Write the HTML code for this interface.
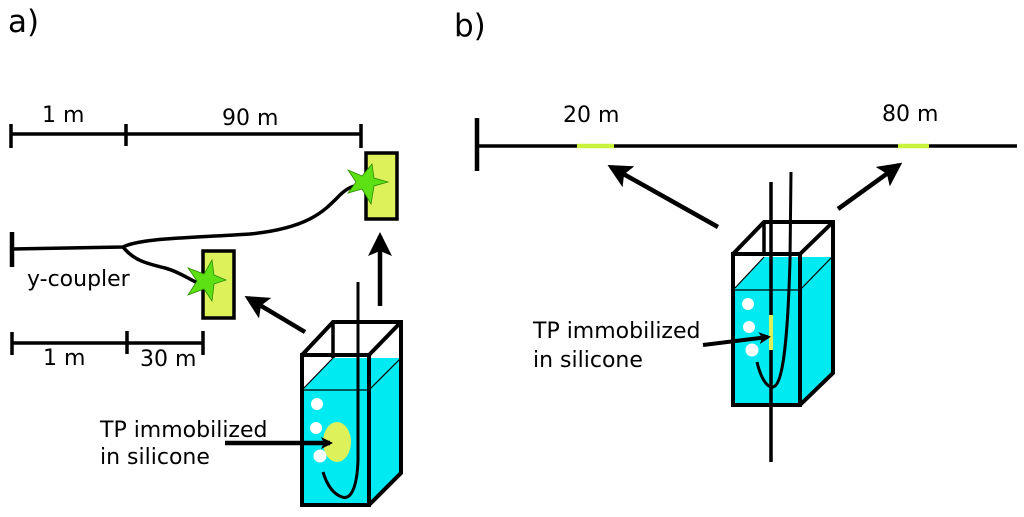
<!DOCTYPE html>
<html><head><style>body{margin:0;background:#fff}svg{display:block}text{font-family:"DejaVu Sans","Liberation Sans",sans-serif;fill:#000}</style></head>
<body>
<svg width="1024" height="517" viewBox="0 0 1024 517" xmlns="http://www.w3.org/2000/svg">
<defs>
<marker id="ah" markerWidth="12" markerHeight="12" refX="9" refY="6" orient="auto" markerUnits="userSpaceOnUse" viewBox="0 0 12 12">
<path d="M0,0 L12,6 L0,12 L3,6 Z" fill="#000"/>
</marker>
<marker id="ah2" markerWidth="24" markerHeight="24" refX="20" refY="12" orient="auto" markerUnits="userSpaceOnUse" viewBox="0 0 24 24">
<path d="M0,0 L24,12 L0,24 L5,12 Z" fill="#000"/>
</marker>
</defs>
<text x="8" y="32" font-size="31">a)</text>
<text x="454" y="36" font-size="31">b)</text>

<!-- a) scales -->
<g stroke="#000" stroke-width="3.5" fill="none">
<line x1="11" y1="134" x2="361" y2="134"/>
<line x1="11" y1="124" x2="11" y2="148"/>
<line x1="126" y1="124" x2="126" y2="146"/>
<line x1="361" y1="124" x2="361" y2="148"/>
<line x1="12" y1="343" x2="203" y2="343"/>
<line x1="12" y1="332" x2="12" y2="355"/>
<line x1="127" y1="331" x2="127" y2="354"/>
<line x1="203" y1="331" x2="203" y2="355"/>
<line x1="12" y1="232" x2="12" y2="267" stroke-width="4.5"/>
<path d="M12,249 L123,247 C140,238 190,238 250,234 C310,228 325,210 340,195 C348,187 355,185 362,185"/>
<path d="M123,247 C135,262 150,264 165,268 C180,272 190,280 198,283"/>
</g>
<text x="42" y="122" font-size="22">1 m</text>
<text x="222" y="125" font-size="22">90 m</text>
<text x="43" y="365" font-size="22">1 m</text>
<text x="140" y="366" font-size="22">30 m</text>
<text x="27" y="286" font-size="22">y-coupler</text>

<rect x="366" y="153" width="31" height="66" fill="#ddf25a" stroke="#000" stroke-width="3.5"/>
<rect x="203" y="251" width="31" height="67" fill="#ddf25a" stroke="#000" stroke-width="3.5"/>
<polygon points="372,164 374,178 388,182 374,186 371,204 362,189 348,193 356,182 348,170 362,176" fill="#5de014" stroke="#2a8a00" stroke-width="0.8"/>
<polygon points="212,260 214,275 226,280 214,284 212,301 204,289 188,295 197,281 188,268 204,274" fill="#5de014" stroke="#2a8a00" stroke-width="0.8"/>

<line x1="305" y1="332" x2="248" y2="298" stroke="#000" stroke-width="4.5" marker-end="url(#ah2)"/>
<line x1="380" y1="306" x2="380" y2="236" stroke="#000" stroke-width="4.5" marker-end="url(#ah2)"/>

<!-- a) tank -->
<polygon points="302,390 333,358 401,358 401,473 369,505 302,505" fill="#00eaf2"/>
<g stroke="#000" fill="none">
<line x1="302" y1="390" x2="333" y2="358" stroke-width="1.2"/>
<line x1="302" y1="390" x2="369" y2="390" stroke-width="1.2"/>
<line x1="369" y1="390" x2="401" y2="358" stroke-width="1.2"/>
<polyline points="302,355 333,322 401,322 401,473 369,505" stroke-width="4"/>
<line x1="333" y1="322" x2="333" y2="358" stroke-width="3.5"/>
<line x1="369" y1="355" x2="401" y2="322" stroke-width="4"/>
<rect x="302" y="355" width="67" height="150" stroke-width="4"/>
</g>
<ellipse cx="337" cy="442" rx="14" ry="20" fill="#ddf25a"/>
<circle cx="317" cy="404" r="6" fill="#fff"/>
<circle cx="316" cy="428" r="6" fill="#fff"/>
<circle cx="320" cy="456" r="6.5" fill="#fff"/>
<path d="M358,282 L358,460 C357,490 350,500 342,497 C333,494 327,485 323,472" stroke="#000" stroke-width="3" fill="none"/>
<text x="100" y="437" font-size="22">TP immobilized</text>
<text x="100" y="464" font-size="22">in silicone</text>
<line x1="225" y1="443" x2="330" y2="443" stroke="#000" stroke-width="4.5" marker-end="url(#ah)"/>

<!-- b) -->
<line x1="477" y1="118" x2="477" y2="171" stroke="#000" stroke-width="4.5"/>
<line x1="477" y1="146" x2="1017" y2="146" stroke="#000" stroke-width="3.5"/>
<line x1="577" y1="146" x2="614" y2="146" stroke="#c8f23c" stroke-width="4.5"/>
<line x1="898" y1="146" x2="929" y2="146" stroke="#c8f23c" stroke-width="4.5"/>
<text x="563" y="122" font-size="22">20 m</text>
<text x="882" y="121" font-size="22">80 m</text>
<line x1="718" y1="227" x2="611" y2="167" stroke="#000" stroke-width="4.5" marker-end="url(#ah2)"/>
<line x1="838" y1="209" x2="899" y2="165" stroke="#000" stroke-width="4.5" marker-end="url(#ah2)"/>

<polygon points="735,288 764,257 832,257 832,373 800,405 733,405" fill="#00eaf2"/>
<g stroke="#000" fill="none">
<line x1="735" y1="288" x2="764" y2="257" stroke-width="1.2"/>
<line x1="733" y1="290" x2="800" y2="290" stroke-width="1.2"/>
<line x1="800" y1="290" x2="832" y2="257" stroke-width="1.2"/>
<polyline points="733,254 764,222 833,222 833,373 800,405" stroke-width="4"/>
<line x1="764" y1="222" x2="764" y2="254" stroke-width="3.5"/>
<line x1="800" y1="254" x2="833" y2="222" stroke-width="4"/>
<rect x="733" y="254" width="67" height="151" stroke-width="4"/>
</g>
<circle cx="748" cy="304" r="6" fill="#fff"/>
<circle cx="749" cy="327" r="6" fill="#fff"/>
<circle cx="752" cy="350" r="6.5" fill="#fff"/>
<line x1="771" y1="182" x2="771" y2="462" stroke="#000" stroke-width="3.5"/>
<line x1="771" y1="315" x2="771" y2="350" stroke="#ddf25a" stroke-width="4"/>
<path d="M791,172 L790,260 C788,330 784,385 773,387 C766,388 760,375 757,362" stroke="#000" stroke-width="3" fill="none"/>
<text x="533" y="338" font-size="22">TP immobilized</text>
<text x="533" y="367" font-size="22">in silicone</text>
<line x1="703" y1="345" x2="768" y2="337" stroke="#000" stroke-width="4" marker-end="url(#ah)"/>
</svg>
</body></html>
